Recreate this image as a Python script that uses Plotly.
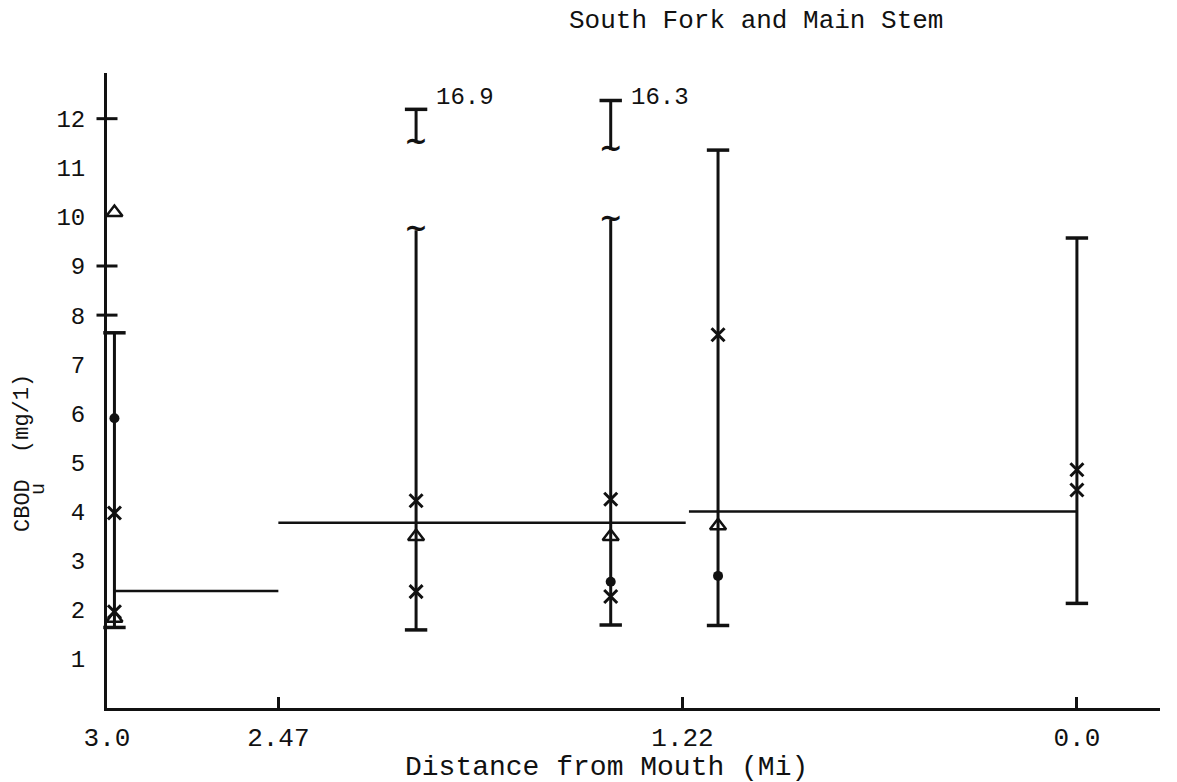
import plotly.graph_objects as go

# ---------------- data ----------------
station_mi = [2.977, 2.044, 1.442, 1.110, 0.0]
range_low = [1.64, 1.59, 1.69, 1.68, 2.13]
range_high = [7.64, 9.73, 9.94, 11.36, 9.57]
is_broken = [False, True, True, False, False]

# off-scale (broken) upper parts of the ranges
broken_mi = [2.044, 1.442]
off_low = [11.50, 11.36]
off_high = [12.19, 12.37]
off_label = ["16.9", "16.3"]

x_mark_mi = [2.977, 2.977, 2.044, 2.044, 1.442, 1.442, 1.110, 0.0, 0.0]
x_mark_val = [3.97, 1.96, 4.22, 2.37, 4.25, 2.27, 7.6, 4.85, 4.44]
tri_mi = [2.977, 2.977, 2.044, 1.442, 1.110]
tri_val = [10.09, 1.83, 3.49, 3.49, 3.71]
dot_mi = [2.977, 1.442, 1.110]
dot_val = [5.9, 2.57, 2.69]

reach_start = [2.977, 2.47, 1.20]
reach_end = [2.47, 1.21, 0.0]
reach_mean = [2.38, 3.77, 4.00]

x_tick_vals = [3.0, 2.47, 1.22, 0.0]
x_tick_text = ["3.0", "2.47", "1.22", "0.0"]
y_tick_vals = list(range(1, 13))
y_cross_ticks = [12, 9, 8]

FONT = "Liberation Mono"
INK = "#111111"

fig = go.Figure()

# vertical range lines
lx, ly = [], []
for s, lo, hi in zip(station_mi, range_low, range_high):
    lx += [s, s, None]
    ly += [lo, hi, None]
for s, lo, hi in zip(broken_mi, off_low, off_high):
    lx += [s, s, None]
    ly += [lo, hi, None]
fig.add_trace(go.Scatter(x=lx, y=ly, mode="lines", line=dict(color=INK, width=3),
                         hoverinfo="skip", showlegend=False))

# reach mean lines
rx, ry = [], []
for a, b, m in zip(reach_start, reach_end, reach_mean):
    rx += [a, b, None]
    ry += [m, m, None]
fig.add_trace(go.Scatter(x=rx, y=ry, mode="lines", line=dict(color=INK, width=2.5),
                         hoverinfo="skip", showlegend=False))

# caps
cap_x = list(station_mi) + [s for s, b in zip(station_mi, is_broken) if not b] + broken_mi
cap_y = list(range_low) + [h for h, b in zip(range_high, is_broken) if not b] + off_high
fig.add_trace(go.Scatter(x=cap_x, y=cap_y, mode="markers",
                         marker=dict(symbol="line-ew-open", size=16, color=INK,
                                     line=dict(color=INK, width=3.5)),
                         cliponaxis=False, hoverinfo="skip", showlegend=False))

# break squiggles
sq_x = [s for s, b in zip(station_mi, is_broken) if b] + broken_mi
sq_y = [h for h, b in zip(range_high, is_broken) if b] + off_low
fig.add_trace(go.Scatter(x=sq_x, y=sq_y, mode="text", text=["~"] * len(sq_x),
                         textposition="middle center",
                         textfont=dict(family="DejaVu Sans", size=28, color=INK, weight=700),
                         hoverinfo="skip", showlegend=False))

# markers
fig.add_trace(go.Scatter(x=x_mark_mi, y=x_mark_val, mode="markers",
                         marker=dict(symbol="x-thin-open", size=13, color=INK,
                                     line=dict(color=INK, width=3)),
                         showlegend=False))
fig.add_trace(go.Scatter(x=tri_mi, y=tri_val, mode="markers",
                         marker=dict(symbol="triangle-up-open", size=14, color=INK,
                                     line=dict(color=INK, width=2.5)),
                         cliponaxis=False, showlegend=False))
fig.add_trace(go.Scatter(x=dot_mi, y=dot_val, mode="markers",
                         marker=dict(symbol="circle", size=10, color=INK),
                         showlegend=False))

# y-axis crossing ticks
fig.add_trace(go.Scatter(x=[3.0] * len(y_cross_ticks), y=y_cross_ticks, mode="markers",
                         marker=dict(symbol="line-ew-open", size=15, color=INK,
                                     line=dict(color=INK, width=3)),
                         cliponaxis=False, hoverinfo="skip", showlegend=False))

# off-scale labels
for s, hi, lab in zip(broken_mi, off_high, off_label):
    fig.add_annotation(x=s, y=12.43, xref="x", yref="y", text=lab, showarrow=False,
                       xanchor="left", yanchor="middle", xshift=18,
                       font=dict(family=FONT, size=24, color=INK))

# titles
fig.add_annotation(x=(756 - 107) / 1053, y=(708 - 21) / 635, xref="paper", yref="paper",
                   text="South Fork and Main Stem", showarrow=False,
                   xanchor="center", yanchor="middle",
                   font=dict(family=FONT, size=26, color=INK))
fig.add_annotation(x=(606 - 107) / 1053, y=(708 - 767) / 635, xref="paper", yref="paper",
                   text="Distance from Mouth (Mi)", showarrow=False,
                   xanchor="center", yanchor="middle",
                   font=dict(family=FONT, size=28, color=INK))
# y-axis title: CBOD with subscript u, then (mg/1)
fig.add_annotation(x=(23 - 107) / 1053, y=(708 - 506) / 635, xref="paper", yref="paper",
                   text="CBOD", showarrow=False, textangle=-90,
                   xanchor="center", yanchor="middle",
                   font=dict(family=FONT, size=22, color=INK))
fig.add_annotation(x=(38 - 107) / 1053, y=(708 - 489) / 635, xref="paper", yref="paper",
                   text="u", showarrow=False, textangle=-90,
                   xanchor="center", yanchor="middle",
                   font=dict(family=FONT, size=20, color=INK))
fig.add_annotation(x=(22 - 107) / 1053, y=(708 - 414) / 635, xref="paper", yref="paper",
                   text="(mg/1)", showarrow=False, textangle=-90,
                   xanchor="center", yanchor="middle",
                   font=dict(family=FONT, size=22, color=INK))

fig.update_layout(
    width=1177, height=782,
    margin=dict(l=107, r=17, t=73, b=74),
    paper_bgcolor="white", plot_bgcolor="white",
    showlegend=False,
    xaxis=dict(range=[3.0, -0.257], tickvals=x_tick_vals, ticktext=x_tick_text,
               ticks="inside", ticklen=11, tickwidth=3, tickcolor=INK,
               showline=True, linewidth=3, linecolor=INK, showgrid=False, zeroline=False,
               ticklabelstandoff=4,
               tickfont=dict(family=FONT, size=26, color=INK)),
    yaxis=dict(range=[0, 12.93], tickvals=y_tick_vals,
               ticks="", showline=True, linewidth=3, linecolor=INK,
               showgrid=False, zeroline=False, ticklabelstandoff=14,
               tickfont=dict(family=FONT, size=24, color=INK)),
)

fig.write_html("out.html")
